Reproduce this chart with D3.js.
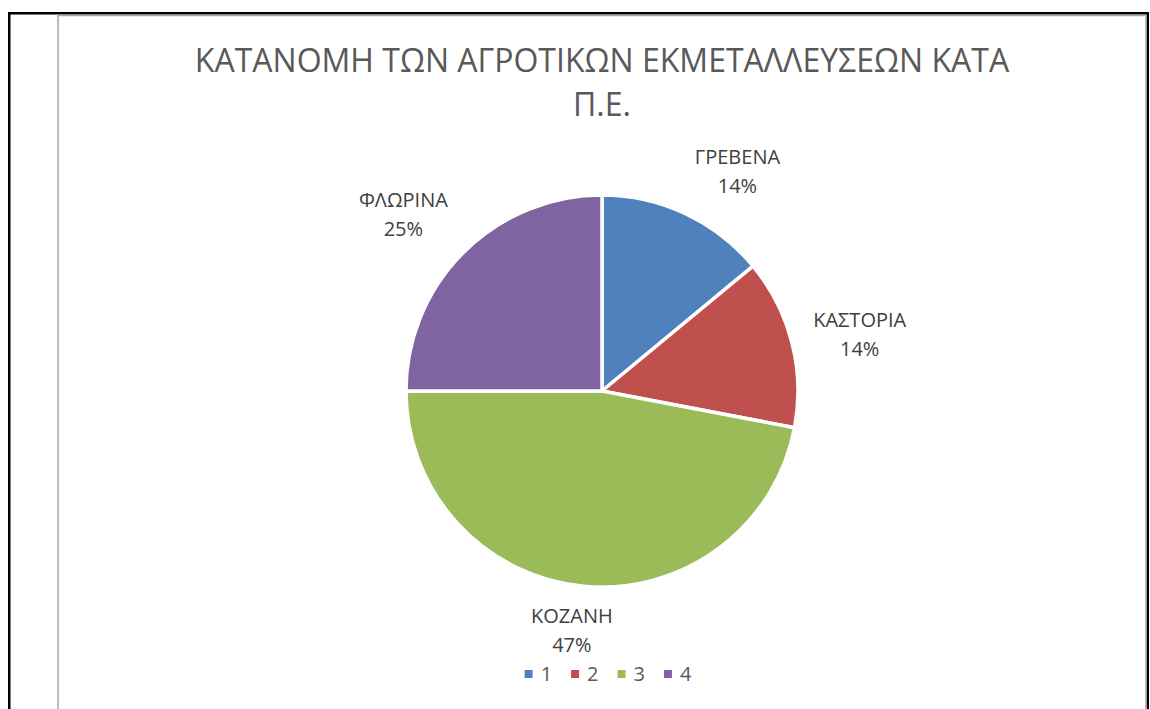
<!DOCTYPE html>
<html>
<head>
<meta charset="utf-8">
<script src="https://cdn.jsdelivr.net/npm/d3@7"></script>
<style>
  body { margin: 0; background: #fff; }
  text { font-family: "Open Sans", "Noto Sans", sans-serif; }
</style>
</head>
<body>
<div id="chart"></div>
<script>
// data
var categories = ["ΓΡΕΒΕΝΑ", "ΚΑΣΤΟΡΙΑ", "ΚΟΖΑΝΗ", "ΦΛΩΡΙΝΑ"];
var shares = [14, 14, 47, 25];
var legendLabels = ["1", "2", "3", "4"];
var colors = ["#4f81bd", "#c0504d", "#9bbb59", "#8064a2"];
var titleLines = ["ΚΑΤΑΝΟΜΗ ΤΩΝ ΑΓΡΟΤΙΚΩΝ ΕΚΜΕΤΑΛΛΕΥΣΕΩΝ ΚΑΤΑ", "Π.Ε."];

var width = 1150, height = 709;
var cx = 602, cy = 391, radius = 196;

var svg = d3.select("#chart").append("svg")
    .attr("width", width)
    .attr("height", height);

// outer page frame + chart area border
svg.append("rect")
    .attr("x", 9.25).attr("y", 13.25)
    .attr("width", 1138.5).attr("height", 740)
    .attr("fill", "none")
    .attr("stroke", "#000")
    .attr("stroke-width", 2.5);

svg.append("rect")
    .attr("x", 58).attr("y", 15.5)
    .attr("width", 1088).attr("height", 740)
    .attr("fill", "#fff")
    .attr("stroke", "#a6a6a6")
    .attr("stroke-width", 1.5);

// title, sized so the first line spans like the original
var title = svg.append("g").attr("class", "title");
title.selectAll("text")
    .data(titleLines)
  .enter().append("text")
    .attr("x", cx)
    .attr("y", function(d, i) { return 72 + i * 44; })
    .attr("text-anchor", "middle")
    .attr("fill", "#595959")
    .style("font-size", "30px")
    .text(function(d) { return d; });

var w0 = title.select("text").node().getComputedTextLength();
var fs = 30 * 815 / w0;
title.selectAll("text").style("font-size", fs + "px");

// pie
var pie = d3.pie()
    .sort(null)
    .value(function(d) { return d; });

var arc = d3.arc()
    .innerRadius(0)
    .outerRadius(radius);

var arcs = pie(shares);
var total = d3.sum(shares);
var pct = d3.format(".0%");

var g = svg.append("g")
    .attr("transform", "translate(" + cx + "," + cy + ")");

g.selectAll("path.slice")
    .data(arcs)
  .enter().append("path")
    .attr("class", "slice")
    .attr("d", arc)
    .attr("fill", function(d, i) { return colors[i]; })
    .attr("stroke", "#fff")
    .attr("stroke-width", 3.5)
    .attr("stroke-linejoin", "round");

// data labels, placed just outside the slice edge (excel-ish best fit)
var labelR = radius + 22, lineH = 29, boxH = 44;
var clamp = function(v) { return Math.max(-1, Math.min(1, v)); };

arcs.forEach(function(d, i) {
    var a = (d.startAngle + d.endAngle) / 2;
    var ux = Math.sin(a), uy = -Math.cos(a);
    var lab = g.append("g").attr("class", "label");
    var t1 = lab.append("text")
        .attr("text-anchor", "middle")
        .attr("fill", "#404040")
        .style("font-size", "20px")
        .text(categories[i]);
    var t2 = lab.append("text")
        .attr("text-anchor", "middle")
        .attr("fill", "#404040")
        .style("font-size", "20px")
        .text(pct(shares[i] / total));
    var bw = Math.max(t1.node().getComputedTextLength(), t2.node().getComputedTextLength());
    var fx = clamp(ux / 0.4);
    var fy = Math.sign(uy) * Math.max(0, Math.min(1, (Math.abs(uy) - 0.2) / 0.4));
    var lx = labelR * ux + fx * bw / 2;
    var ly = labelR * uy + fy * boxH / 2;
    t1.attr("x", lx).attr("y", ly - lineH / 2).attr("dy", "0.35em");
    t2.attr("x", lx).attr("y", ly + lineH / 2).attr("dy", "0.35em");
});

// legend
var legend = svg.append("g").attr("class", "legend");
var items = legend.selectAll("g")
    .data(legendLabels)
  .enter().append("g");

items.append("rect")
    .attr("width", 8).attr("height", 8)
    .attr("y", -4)
    .attr("fill", function(d, i) { return colors[i]; });

items.append("text")
    .attr("x", 16)
    .attr("dy", "0.36em")
    .attr("fill", "#595959")
    .style("font-size", "20px")
    .text(function(d) { return d; });

var xpos = 0;
items.each(function() {
    var it = d3.select(this);
    it.attr("transform", "translate(" + xpos + ",0)");
    xpos += 16 + it.select("text").node().getComputedTextLength() + 19;
});
var legW = xpos - 19;
legend.attr("transform", "translate(" + (608 - legW / 2) + ",674)");
</script>
</body>
</html>
